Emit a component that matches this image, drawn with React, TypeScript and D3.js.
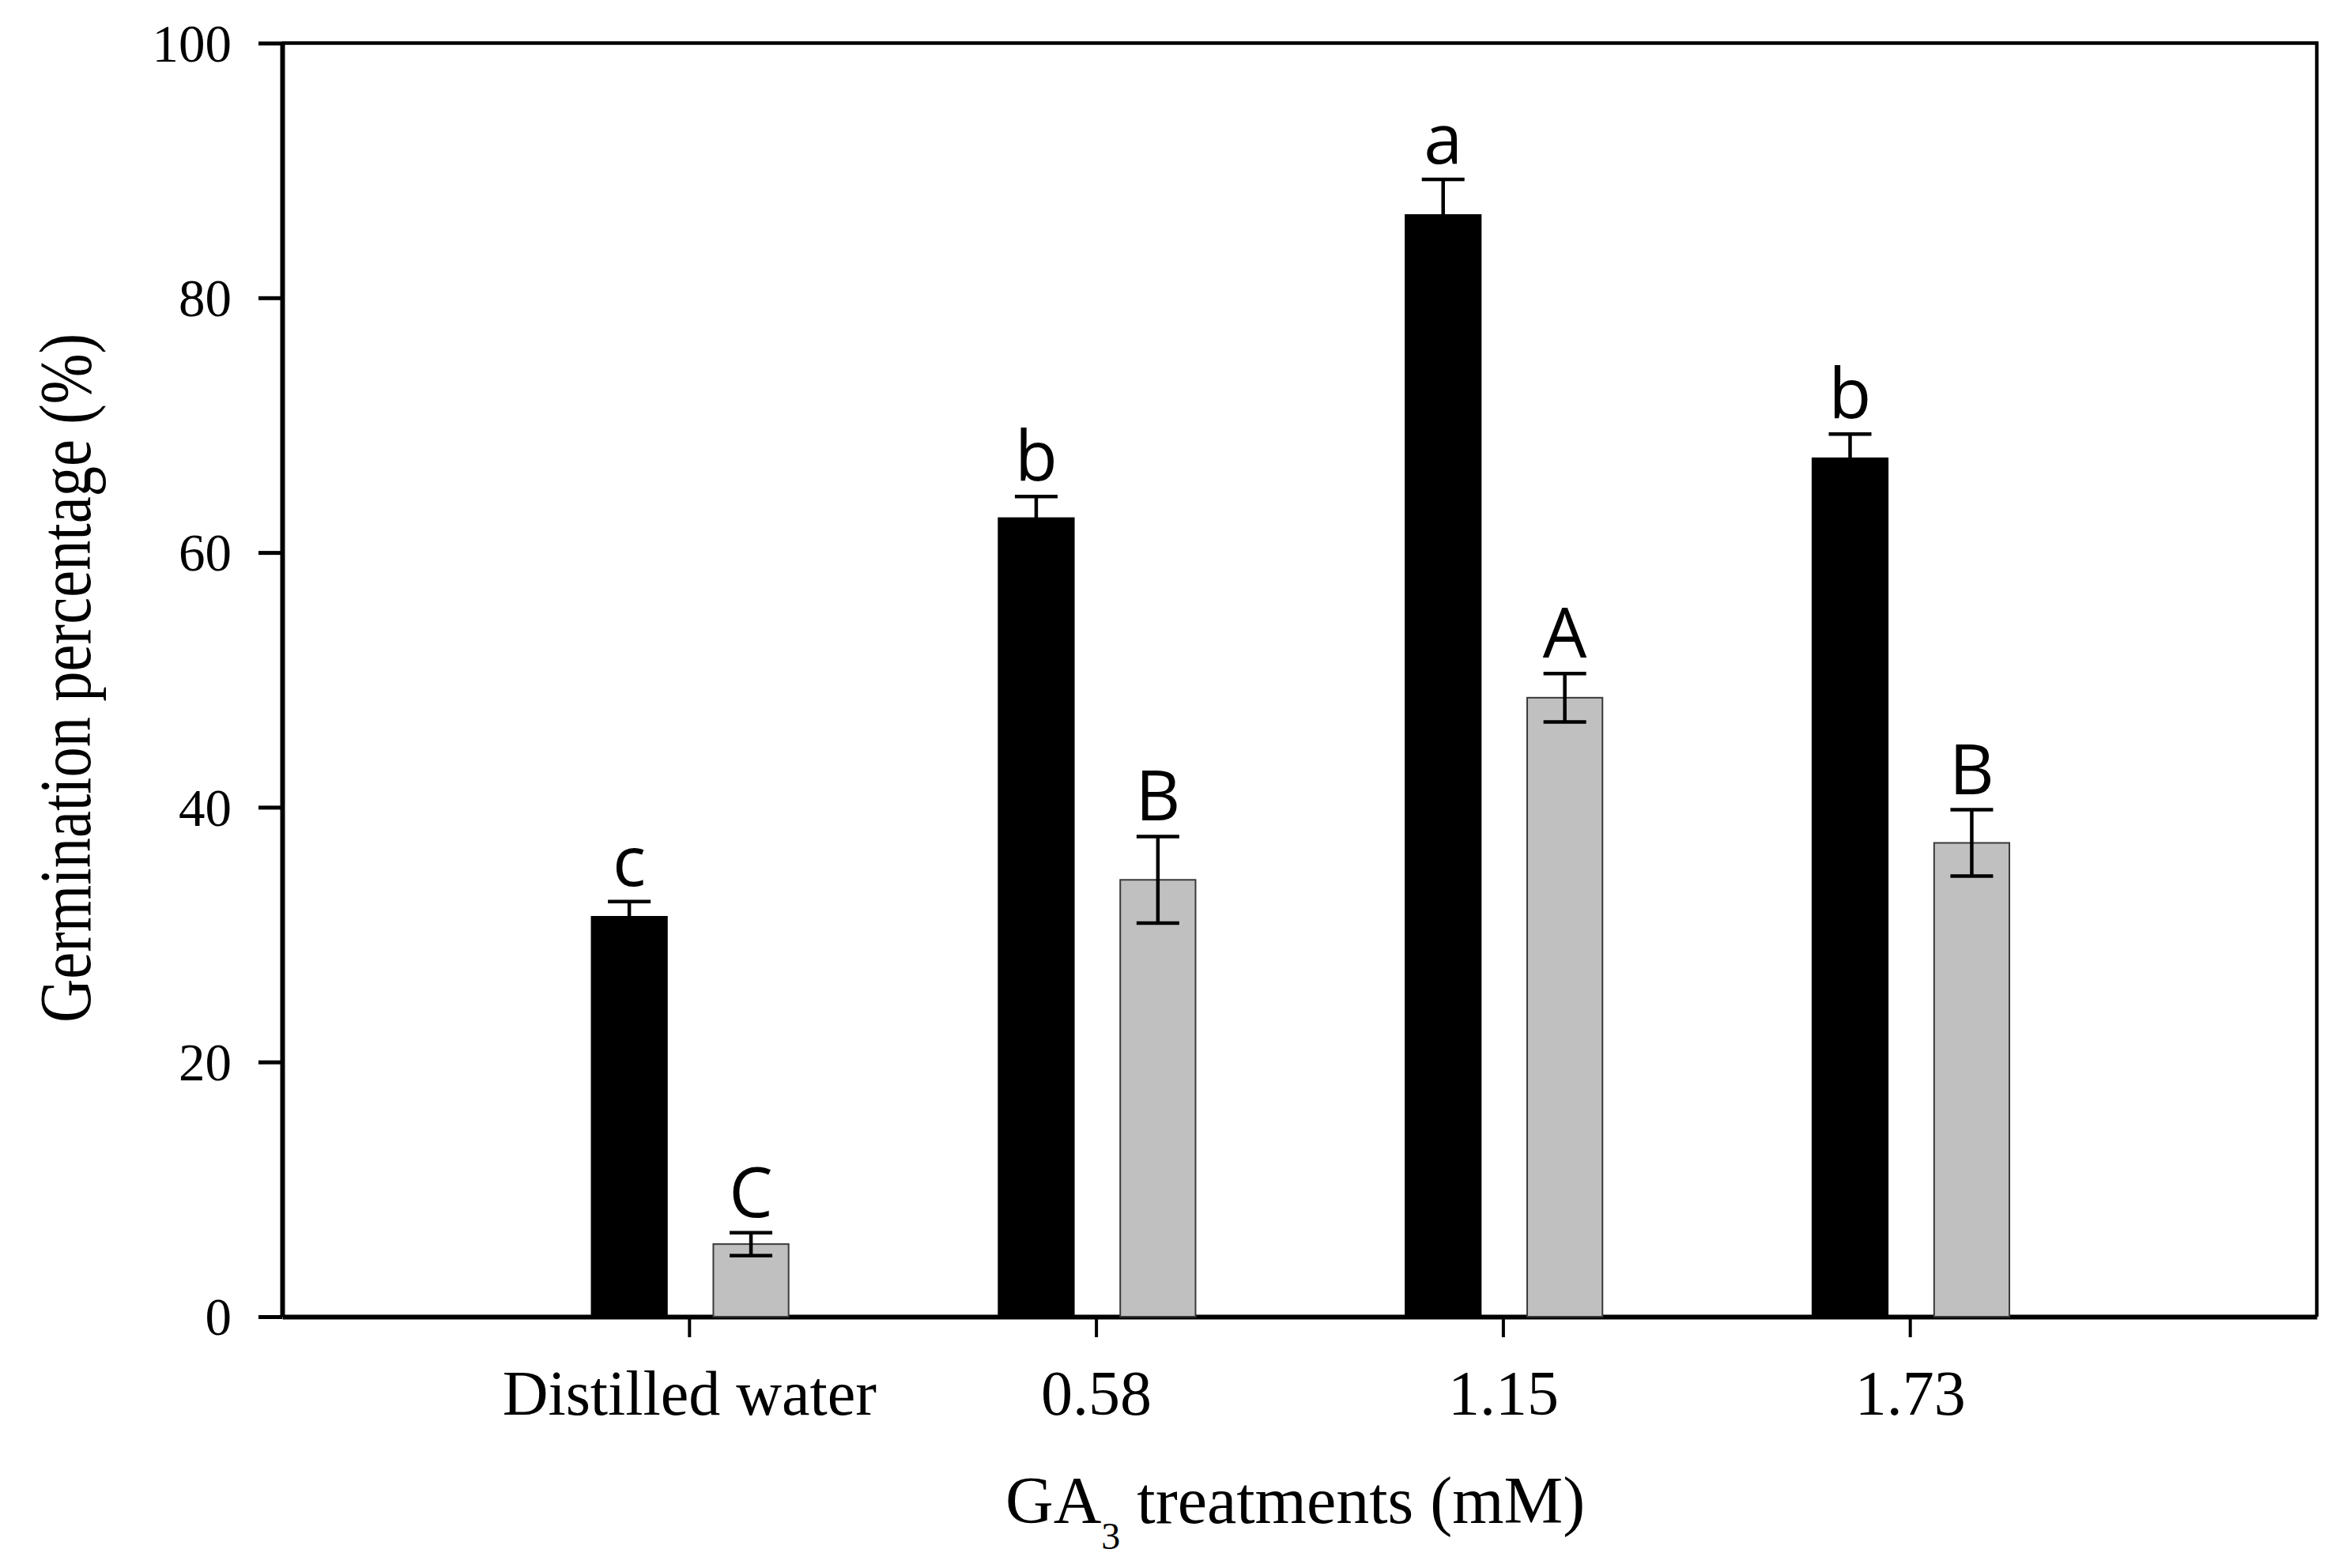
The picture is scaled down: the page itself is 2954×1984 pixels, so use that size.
import { useEffect, useRef } from "react";
import * as d3 from "d3";

const categories = ["Distilled water", "0.58", "1.15", "1.73"];

// black bars
const darkMeans = [31.4, 62.7, 86.5, 67.4];
const darkErrors = [1.2, 1.7, 2.8, 1.9];
const darkLetters = ["c", "b", "a", "b"];

// grey bars
const lightMeans = [5.7, 34.3, 48.6, 37.2];
const lightErrors = [0.9, 3.4, 1.9, 2.6];
const lightLetters = ["C", "B", "A", "B"];

const yTicks = [0, 20, 40, 60, 80, 100];

const W = 2954;
const H = 1984;
const serif = "'Liberation Serif', 'Times New Roman', serif";
const sans = "'Open Sans', 'Noto Sans', sans-serif";

export default function App() {
  const ref = useRef<SVGSVGElement>(null);

  useEffect(() => {
    const svg = d3.select(ref.current);
    svg.selectAll("*").remove();

    const left = 357;
    const right = 2931;
    const top = 54.5;
    const bottom = 1666;

    const x = d3.scaleLinear().domain([0, 5]).range([left, right]);
    const y = d3.scaleLinear().domain([0, 100]).range([bottom, top]);
    const step = x(1) - x(0);
    const barW = step * 0.185;
    const darkOff = -step * 0.147;
    const lightOff = step * 0.152;

    // frame (top + right)
    svg
      .append("path")
      .attr("d", `M${left},${top}H${right}V${bottom}`)
      .attr("fill", "none")
      .attr("stroke", "#000")
      .attr("stroke-width", 4.5);

    // y axis
    const yAxis = svg
      .append("g")
      .attr("transform", `translate(${left},0)`)
      .call(
        d3
          .axisLeft(y)
          .tickValues(yTicks)
          .tickSize(30)
          .tickSizeOuter(0)
          .tickPadding(34)
      );
    yAxis.select(".domain").attr("stroke-width", 6);
    yAxis.selectAll(".tick line").attr("stroke-width", 5);
    yAxis
      .selectAll(".tick text")
      .attr("font-family", serif)
      .attr("font-size", 67)
      .attr("fill", "#000")
      .attr("dy", "0.34em");

    // x axis
    const xAxis = svg
      .append("g")
      .attr("transform", `translate(0,${bottom})`)
      .call(
        d3
          .axisBottom(x)
          .tickValues([1, 2, 3, 4])
          .tickFormat((d) => categories[(d as number) - 1])
          .tickSize(26)
          .tickSizeOuter(0)
      );
    xAxis.select(".domain").attr("stroke-width", 6);
    xAxis.selectAll(".tick line").attr("stroke-width", 4);
    xAxis
      .selectAll(".tick text")
      .attr("font-family", serif)
      .attr("font-size", 80)
      .attr("fill", "#000")
      .attr("y", 124)
      .attr("dy", 0);

    const idx = categories.map((_, i) => i);

    const drawSeries = (
      means: number[],
      errors: number[],
      letters: string[],
      off: number,
      fill: string,
      stroke: string
    ) => {
      const g = svg.append("g");
      g.selectAll("rect")
        .data(idx)
        .join("rect")
        .attr("x", (i) => x(i + 1) + off - barW / 2)
        .attr("y", (i) => y(means[i]))
        .attr("width", barW)
        .attr("height", (i) => y(0) - y(means[i]))
        .attr("fill", fill)
        .attr("stroke", stroke)
        .attr("stroke-width", 2);

      const cap = 27;
      g.selectAll("path.err")
        .data(idx)
        .join("path")
        .attr("class", "err")
        .attr("d", (i) => {
          const cx = x(i + 1) + off;
          const hi = y(means[i] + errors[i]);
          const lo = y(means[i] - errors[i]);
          return `M${cx},${hi}V${lo}M${cx - cap},${hi}H${cx + cap}M${cx - cap},${lo}H${cx + cap}`;
        })
        .attr("fill", "none")
        .attr("stroke", "#000")
        .attr("stroke-width", 4.5);

      g.selectAll("text")
        .data(idx)
        .join("text")
        .attr("x", (i) => x(i + 1) + off)
        .attr("y", (i) => y(means[i] + errors[i]) - 20)
        .attr("text-anchor", "middle")
        .attr("font-family", sans)
        .attr("font-size", 88)
        .attr("fill", "#000")
        .text((i) => letters[i]);
    };

    drawSeries(darkMeans, darkErrors, darkLetters, darkOff, "#000", "#000");
    drawSeries(lightMeans, lightErrors, lightLetters, lightOff, "#c0c0c0", "#3a3a3a");

    // y title
    svg
      .append("text")
      .attr("transform", `translate(114,858) rotate(-90)`)
      .attr("text-anchor", "middle")
      .attr("font-family", serif)
      .attr("font-size", 94)
      .attr("textLength", 872)
      .attr("lengthAdjust", "spacingAndGlyphs")
      .attr("fill", "#000")
      .text("Germination percentage (%)");

    // x title
    const xt = svg
      .append("text")
      .attr("x", 1272)
      .attr("y", 1927)
      .attr("font-family", serif)
      .attr("font-size", 84)
      .attr("fill", "#000");
    xt.append("tspan").text("GA");
    xt.append("tspan").attr("font-size", 48).attr("dy", 33).text("3");
    xt.append("tspan").attr("dy", -33).text(" treatments (mM)");
  }, []);

  return (
    <svg
      ref={ref}
      width={W}
      height={H}
      style={{ position: "absolute", left: 0, top: 0, background: "#fff" }}
    />
  );
}
